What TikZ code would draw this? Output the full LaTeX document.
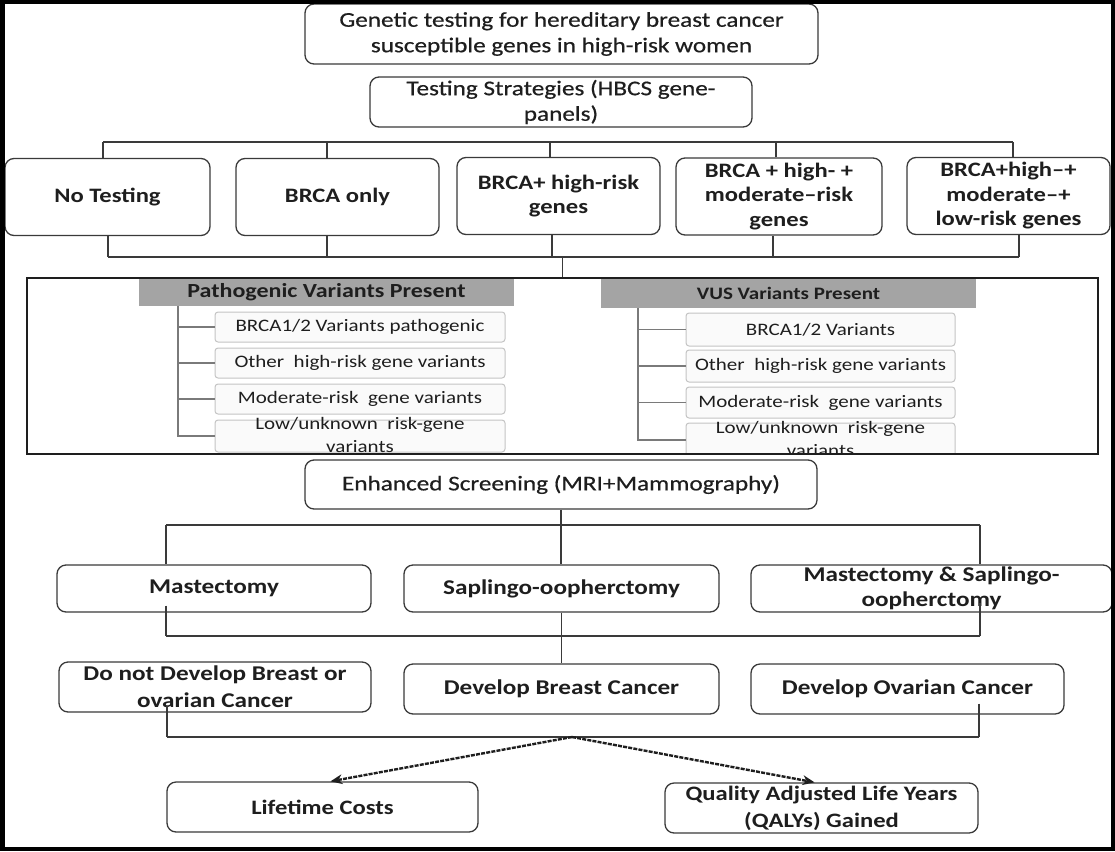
\documentclass[tikz,border=0pt]{standalone}
\usepackage{fontspec}
\setmainfont{Carlito}[FakeStretch=1.2]
\newfontfamily\heavyreg{Carlito}[FakeStretch=1.2,FakeBold=0.5]
\usetikzlibrary{arrows.meta}
\definecolor{ink}{HTML}{1E1E1E}
\definecolor{edge}{HTML}{3A3A3A}
\definecolor{hdr}{HTML}{A4A4A4}
\definecolor{treeg}{HTML}{7A7A7A}
\definecolor{subedge}{HTML}{C4C4C4}
\newcommand\cliptwo[2]{\smash{\raisebox{-4.5pt}{\begin{tabular}{@{}c@{}}#1\\#2\end{tabular}}}}
\begin{document}
\begin{tikzpicture}[x=1pt,y=-1pt,
 box/.style={draw=edge, line width=1.3pt, rounded corners=9pt, align=center, inner sep=0pt, text=ink, fill=white},
 big/.style={font=\fontsize{21}{25.5}\selectfont\heavyreg},
 bigb/.style={font=\fontsize{20.5}{24.5}\selectfont\bfseries},
 hdrbox/.style={fill=hdr, inner sep=0pt, text=ink},
 sub/.style={draw=subedge, line width=1pt, rounded corners=3pt, fill=black!2, inner sep=0pt, align=center, text=ink, font=\fontsize{17.5}{23}\selectfont},
 conn/.style={draw=edge, line width=1.5pt},
 tree/.style={draw=treeg, line width=1.5pt},
 arr/.style={draw=ink, line width=2.4pt, dash pattern=on 4pt off 1.2pt, -{Stealth[length=12pt,width=10pt,line width=0pt]}}
]
\useasboundingbox (0,0) rectangle (1115,851);

% top boxes
\node[box,big,minimum width=513pt,minimum height=60pt] (gen) at (561.5,34) {Genetic testing for hereditary breast cancer\\susceptible genes in high-risk women};
\node[box,big,minimum width=382pt,minimum height=50pt] (strat) at (561,102) {Testing Strategies (HBCS gene-\\panels)};

% strategies
\node[box,bigb,minimum width=205pt,minimum height=77pt] (notest) at (107.5,197) {No Testing};
\node[box,bigb,minimum width=203pt,minimum height=77pt] (bonly) at (337.5,197) {BRCA only};
\node[box,bigb,minimum width=203pt,minimum height=77pt] (bhigh) at (558.5,196) {BRCA+ high-risk\\genes};
\node[box,bigb,minimum width=206pt,minimum height=77pt] (bmod) at (779,196.5) {BRCA + high- +\\moderate–risk\\genes};
\node[box,bigb,minimum width=203pt,minimum height=77pt] (blow) at (1008.5,196) {BRCA+high–+\\moderate–+\\low-risk genes};

% top bus
\coordinate (tbL) at (103,142);
\coordinate (tbR) at (1013,142);
\coordinate (t2) at ([xshift=-10.5pt]bonly.north);
\coordinate (t3) at ([xshift=-8.5pt]bhigh.north);
\coordinate (t4) at ([xshift=-3pt]bmod.north);
\draw[conn] (tbL) -- (tbR);
\draw[conn] (tbL) -- (tbL |- notest.north);
\draw[conn] (tbR) -- (tbR |- blow.north);
\draw[conn] (t2) -- (t2 |- tbL);
\draw[conn] (t3) -- (t3 |- tbL);
\draw[conn] (t4) -- (t4 |- tbL);

% bottom bus
\coordinate (bbL) at (108,257);
\coordinate (bbR) at (1019,257);
\coordinate (u2) at ([xshift=-10.5pt]bonly.south);
\coordinate (u3) at ([xshift=-6.5pt]bhigh.south);
\coordinate (u4) at ([xshift=-6pt]bmod.south);
\draw[conn] (bbL) -- (bbR);
\draw[conn] (bbL |- notest.south) -- (bbL);
\draw[conn] (bbR |- blow.south) -- (bbR);
\draw[conn] (u2) -- (u2 |- bbL);
\draw[conn] (u3) -- (u3 |- bbL);
\draw[conn] (u4) -- (u4 |- bbL);

% variant panel contents
\node[hdrbox, minimum width=375pt, minimum height=27pt, font=\fontsize{20}{24}\selectfont\bfseries] (phead) at (326.5,292.5) {Pathogenic Variants Present};
\node[hdrbox, minimum width=375pt, minimum height=29pt, font=\fontsize{17.5}{21}\selectfont\bfseries] (vhead) at (788.5,293.5) {VUS Variants Present};
\begin{scope}
\clip (27,278) rectangle (1098,454);
\node[sub, minimum width=290pt, minimum height=30pt] (p1) at (360,327) {BRCA1/2 Variants pathogenic};
\node[sub, minimum width=290pt, minimum height=30pt] (p2) at (360,363) {Other~ high-risk gene variants};
\node[sub, minimum width=290pt, minimum height=30pt] (p3) at (360,399) {Moderate-risk~ gene variants};
\node[sub, minimum width=290pt, minimum height=32pt] (p4) at (360,436) {\cliptwo{Low/unknown~ risk-gene}{variants}};
\node[sub, minimum width=269pt, minimum height=33pt] (v1) at (820.5,329.5) {BRCA1/2 Variants};
\node[sub, minimum width=269pt, minimum height=32pt] (v2) at (820.5,366) {Other~ high-risk gene variants};
\node[sub, minimum width=269pt, minimum height=31pt] (v3) at (820.5,402.5) {Moderate-risk~ gene variants};
\node[sub, minimum width=269pt, minimum height=34pt] (v4) at (820.5,440) {\cliptwo{Low/unknown~ risk-gene}{variants}};
\end{scope}
\node[draw=ink, line width=1.2pt, minimum width=1071pt, minimum height=176pt, inner sep=0pt] (panel) at (562.5,366) {};

\coordinate (lt) at (178,306);
\draw[tree] (lt) -- (lt |- p4.west) -- (p4.west);
\draw[tree] (lt |- p1.west) -- (p1.west);
\draw[tree] (lt |- p2.west) -- (p2.west);
\draw[tree] (lt |- p3.west) -- (p3.west);
\coordinate (rt) at (638,308);
\draw[tree] (rt) -- (rt |- v4.west) -- (v4.west);
\draw[tree] (rt |- v1.west) -- (v1.west);
\draw[tree] (rt |- v2.west) -- (v2.west);
\draw[tree] (rt |- v3.west) -- (v3.west);

\coordinate (pc) at (562.5,257);
\draw[conn] (pc) -- (pc |- panel.north);

% screening and surgery
\node[box,big,minimum width=512pt,minimum height=49pt] (enh) at (561,484.5) {Enhanced Screening (MRI+Mammography)};
\node[box,bigb,font=\fontsize{21}{25}\selectfont\bfseries,minimum width=314pt,minimum height=47pt] (mast) at (214,588.5) {Mastectomy};
\node[box,bigb,font=\fontsize{21}{25}\selectfont\bfseries,minimum width=315pt,minimum height=47pt] (sap) at (561.5,588.5) {Saplingo-oopherctomy};
\node[box,bigb,font=\fontsize{21}{25}\selectfont\bfseries,minimum width=361pt,minimum height=47pt] (ms) at (931.5,588.5) {Mastectomy \& Saplingo-\\oopherctomy};

\coordinate (b2L) at (166,525);
\coordinate (b2R) at (980,525);
\draw[conn] (b2L) -- (b2R);
\draw[conn] (b2L) -- (b2L |- mast.north);
\draw[conn] (b2R) -- (b2R |- ms.north);
\draw[conn] (enh.south) -- (enh.south |- sap.north);

% outcomes
\node[box,bigb,font=\fontsize{21}{27}\selectfont\bfseries,minimum width=312pt,minimum height=50pt] (donot) at (215,687) {Do not Develop Breast or\\ovarian Cancer};
\node[box,bigb,font=\fontsize{21}{27}\selectfont\bfseries,minimum width=315pt,minimum height=50pt] (devb) at (561.5,689) {Develop Breast Cancer};
\node[box,bigb,font=\fontsize{21}{27}\selectfont\bfseries,minimum width=313pt,minimum height=50pt] (devo) at (907.5,689) {Develop Ovarian Cancer};

\coordinate (b3L) at (166,636);
\coordinate (b3R) at (980,636);
\coordinate (mb) at (b3L |- mast.south);
\coordinate (msb) at (b3R |- ms.south);
\draw[conn] (b3L) -- (b3R);
\draw[conn] (mb) ++(0,-7) -- (b3L);
\draw[conn] (msb) ++(0,-10) -- (b3R);
\draw[conn] (sap.south) -- (devb.north);

\coordinate (b4L) at (167,737);
\coordinate (b4R) at (979,737);
\coordinate (db) at (b4L |- donot.south);
\coordinate (ob) at (b4R |- devo.south);
\draw[conn] (b4L) -- (b4R);
\draw[conn] (db) ++(0,-7) -- (b4L);
\draw[conn] (ob) ++(0,-11) -- (b4R);

% results
\node[box,bigb,font=\fontsize{20.5}{27}\selectfont\bfseries,minimum width=311pt,minimum height=50pt] (life) at (322.5,807) {Lifetime Costs};
\node[box,bigb,font=\fontsize{20.5}{27}\selectfont\bfseries,minimum width=313pt,minimum height=50pt] (qaly) at (821.5,808) {Quality Adjusted Life Years\\(QALYs) Gained};
\coordinate (ao) at (572,737);
\draw[arr] (ao) -- ([xshift=8pt]life.north);
\draw[arr] (ao) -- ([xshift=-7pt]qaly.north);

% frame
\draw[line width=4.5pt, draw=black] (2.25,2.25) rectangle (1112.75,848.75);
\end{tikzpicture}
\end{document}
